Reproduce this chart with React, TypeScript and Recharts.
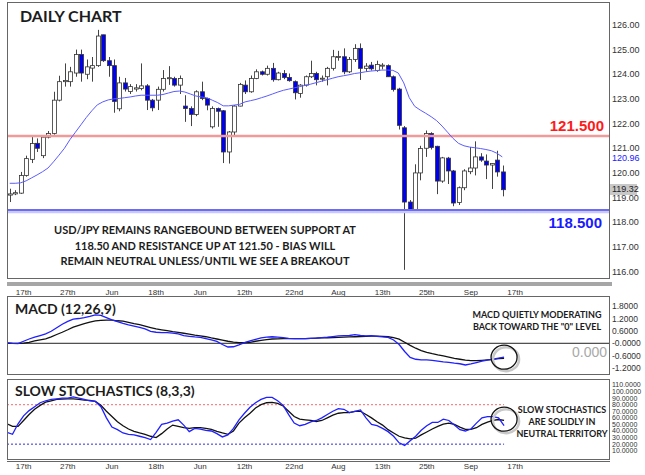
import { ComposedChart, Bar, Line, XAxis, YAxis, ReferenceLine, ReferenceDot } from 'recharts'

// daily USD/JPY candles
const opens = [
  119.1, 119.15, 119.18, 119.9, 120.55, 121.2, 120.7, 121.45, 121.6, 122.95,
  123.7, 123.7, 124.05, 124.8, 124.0, 124.25, 124.35, 125.6, 124.55, 124.35,
  122.6, 123.65, 123.3, 123.4, 123.42, 123.53, 122.95, 122.95, 123.39, 123.83,
  123.83, 123.56, 122.71, 122.61, 122.37, 123.29, 123.02, 121.87, 122.61, 122.52,
  120.85, 121.66, 122.71, 123.56, 123.29, 123.83, 124.1, 124.0, 124.24, 123.78,
  124.03, 123.87, 123.7, 123.22, 123.56, 123.9, 124.03, 123.8, 123.9, 124.24,
  124.68, 124.71, 124.1, 124.6, 125.05, 124.24, 124.37, 124.15, 124.35, 124.35,
  123.9, 123.4, 121.83, 118.82, 118.48, 120.0, 121.0, 121.6, 121.08, 119.67,
  120.6, 120.08, 118.8, 119.4, 120.05, 120.2, 120.65, 120.48, 120.32, 120.52,
  120.04,
]
const highs = [
  119.36, 119.3, 120.04, 120.7, 121.46, 121.4, 121.5, 121.7, 123.29, 123.94,
  124.44, 124.3, 125.0, 125.0, 124.6, 124.7, 125.8, 125.6, 124.7, 124.6,
  123.9, 123.85, 123.6, 123.6, 124.44, 123.6, 123.0, 123.5, 124.17, 124.33,
  123.9, 123.95, 123.15, 122.7, 123.35, 123.7, 123.05, 122.7, 122.65, 122.55,
  121.7, 122.75, 123.65, 123.75, 123.95, 124.2, 124.15, 124.35, 124.46, 124.1,
  124.17, 124.03, 123.75, 123.6, 123.95, 124.55, 124.1, 123.95, 124.3, 124.99,
  124.95, 125.05, 124.7, 125.22, 125.25, 124.45, 124.5, 124.55, 124.45, 124.4,
  123.95, 123.45, 121.9, 118.9, 120.35, 121.1, 121.72, 121.65, 121.1, 120.65,
  120.65, 120.12, 119.45, 120.15, 121.05, 121.28, 120.8, 120.75, 120.4, 120.9,
  120.3,
]
const lows = [
  118.82, 119.1, 119.15, 119.85, 120.4, 120.85, 120.6, 121.4, 121.55, 122.9,
  123.5, 123.5, 123.9, 123.7, 123.8, 123.7, 124.3, 124.5, 123.9, 122.44,
  122.5, 123.3, 123.2, 123.3, 123.35, 122.55, 122.5, 122.55, 123.3, 123.57,
  123.5, 123.2, 122.07, 121.9, 122.3, 122.95, 122.54, 121.8, 121.87, 120.4,
  120.38, 121.46, 122.7, 123.2, 123.25, 123.8, 123.95, 123.95, 123.7, 123.75,
  123.8, 123.7, 122.98, 123.05, 123.5, 123.85, 123.55, 123.7, 123.55, 124.15,
  124.55, 124.0, 124.05, 124.5, 123.77, 124.1, 124.15, 124.1, 124.2, 123.9,
  123.3, 121.76, 116.07, 118.4, 118.45, 119.7, 120.65, 120.95, 119.14, 119.6,
  119.55, 118.65, 118.7, 119.3, 119.95, 119.9, 120.45, 119.75, 119.35, 119.85,
  119.05,
]
const closes = [
  119.15, 119.2, 119.9, 120.58, 121.19, 121.0, 121.45, 121.6, 122.95, 123.7,
  123.75, 124.1, 124.8, 124.05, 124.3, 124.35, 125.55, 124.55, 124.35, 122.9,
  123.65, 123.4, 123.5, 123.45, 123.53, 122.95, 122.64, 123.39, 123.83, 123.86,
  123.56, 123.83, 122.61, 122.37, 123.29, 123.02, 122.75, 122.61, 122.5, 120.85,
  121.66, 122.71, 123.59, 123.29, 123.83, 124.1, 124.0, 124.24, 123.78, 124.05,
  123.87, 123.74, 123.25, 123.56, 123.9, 124.03, 123.78, 123.84, 124.24, 124.71,
  124.72, 124.1, 124.6, 125.05, 124.24, 124.33, 124.22, 124.4, 124.37, 123.9,
  123.38, 121.93, 118.82, 118.48, 120.0, 120.99, 121.6, 121.03, 119.67, 120.61,
  120.08, 118.78, 119.4, 120.08, 120.2, 120.65, 120.52, 120.32, 120.38, 120.04,
  119.32,
]
const ma20 = [
  119.58, 119.58, 119.6, 119.68, 119.8, 119.92, 120.05, 120.2, 120.45, 120.72,
  121.0, 121.35, 121.65, 121.95, 122.25, 122.52, 122.76, 122.88, 122.96, 123.0,
  123.02, 123.05, 123.08, 123.12, 123.15, 123.15, 123.15, 123.15, 123.18, 123.24,
  123.3, 123.32, 123.28, 123.2, 123.12, 123.08, 123.05, 122.95, 122.85, 122.72,
  122.72, 122.75, 122.78, 122.88, 122.93, 122.98, 123.05, 123.12, 123.2, 123.28,
  123.35, 123.4, 123.45, 123.5, 123.55, 123.6, 123.66, 123.72, 123.78, 123.84,
  123.9, 123.94, 123.98, 124.03, 124.06, 124.1, 124.13, 124.15, 124.17, 124.17,
  124.16, 124.05, 123.65, 123.05, 122.7, 122.55, 122.42, 122.28, 122.12, 121.9,
  121.65, 121.4, 121.2, 121.1, 121.05, 121.02, 120.99, 120.95, 120.9, 120.8,
  120.65,
]
const macdLine = [
  0.03, 0.0, -0.02, 0.1, 0.21, 0.3, 0.38, 0.46, 0.59, 0.76,
  0.93, 1.07, 1.18, 1.21, 1.25, 1.31, 1.39, 1.36, 1.25, 1.14,
  1.06, 0.97, 0.9, 0.84, 0.78, 0.7, 0.58, 0.54, 0.52, 0.52,
  0.5, 0.46, 0.37, 0.34, 0.31, 0.29, 0.23, 0.17, 0.09, -0.06,
  -0.18, -0.17, -0.08, 0.03, 0.12, 0.19, 0.26, 0.3, 0.32, 0.3,
  0.28, 0.24, 0.23, 0.23, 0.23, 0.24, 0.25, 0.28, 0.3, 0.33,
  0.36, 0.37, 0.38, 0.42, 0.38, 0.36, 0.37, 0.34, 0.31, 0.29,
  0.16, -0.06, -0.4, -0.69, -0.78, -0.81, -0.81, -0.83, -0.87, -0.91,
  -0.93, -0.97, -1.0, -1.06, -1.01, -0.94, -0.87, -0.82, -0.77, -0.72,
  -0.68,
]
const signalLine = [
  0.0, 0.0, 0.0, 0.01, 0.05, 0.12, 0.17, 0.22, 0.31, 0.43,
  0.54, 0.66, 0.79, 0.88, 0.96, 1.03, 1.09, 1.12, 1.13, 1.13,
  1.1, 1.08, 1.02, 0.96, 0.91, 0.84, 0.77, 0.7, 0.66, 0.62,
  0.57, 0.53, 0.49, 0.45, 0.4, 0.36, 0.32, 0.26, 0.21, 0.16,
  0.1, 0.06, 0.03, 0.03, 0.05, 0.1, 0.14, 0.18, 0.21, 0.22,
  0.23, 0.23, 0.23, 0.23, 0.23, 0.24, 0.25, 0.26, 0.27, 0.28,
  0.29, 0.3, 0.31, 0.32, 0.33, 0.34, 0.35, 0.35, 0.34, 0.32,
  0.28, 0.2, 0.05, -0.1, -0.24, -0.36, -0.44, -0.51, -0.57, -0.62,
  -0.68, -0.74, -0.78, -0.82, -0.85, -0.85, -0.83, -0.81, -0.79, -0.75,
  -0.73,
]
const stochK = [
  38, 35, 51, 63, 71, 77, 83, 86, 88, 89,
  90, 90, 92, 90, 88, 86, 85, 77, 60, 46,
  42, 37, 35, 34, 32, 30, 27, 38, 50, 52,
  55, 57, 49, 39, 44, 43, 41, 40, 36, 31,
  34, 44, 57, 67, 76, 83, 88, 91, 91, 86,
  79, 65, 52, 48, 50, 54, 56, 60, 65, 70,
  74, 73, 68, 70, 72, 60, 50, 48, 44, 39,
  32, 22, 18, 25, 32, 41, 48, 53, 53, 58,
  56, 49, 42, 40, 43, 52, 60, 62, 62, 60,
  48,
]
const stochD = [
  51, 47, 47, 56, 65, 73, 79, 84, 86, 88,
  88.5, 89, 89, 88, 87, 86.5, 85, 79, 70, 62,
  54, 48, 43, 39.5, 37, 35, 32, 30, 36, 43,
  49, 47, 45, 44, 45, 45, 44, 42.5, 39.5, 37,
  35, 40, 52, 60, 67, 75, 80, 83, 83.5, 82,
  78, 70, 62, 58, 57, 56, 54.5, 56, 60, 64,
  67, 68, 68, 70, 70, 65, 60, 54, 49, 42,
  37, 32, 29.5, 28, 29, 34, 38.5, 43, 47, 50.5,
  52, 50, 46, 42.5, 42.5, 45, 50, 53.5, 56, 57.5,
  56,
]

const dateTicks = [3, 11, 19, 27, 35, 43, 52, 60, 68, 76, 84, 92]
const dateLabels = ['17th', '27th', 'Jun', '18th', 'Jun', '12th', '22nd', 'Aug', '13th', '25th', 'Sep', '17th']
const priceTicks = [116, 117, 118, 119, 120, 121, 122, 123, 124, 125, 126]
const macdTicks = [-1.2, -0.6, 0, 0.6, 1.2, 1.8]
const stochTicks = [10, 20, 30, 40, 50, 60, 70, 80, 90, 100, 110]

const SLOTS = 110 // empty space to the right of the last candle

const rows = Array.from({ length: SLOTS }, (_, i) =>
  i < opens.length
    ? {
        idx: i,
        range: [lows[i], highs[i]],
        open: opens[i],
        high: highs[i],
        low: lows[i],
        close: closes[i],
        ma: ma20[i],
        macd: macdLine[i],
        signal: signalLine[i],
        k: stochK[i],
        d: stochD[i],
      }
    : { idx: i }
)

const axisFont = { fontSize: 9, fill: '#333', fontFamily: 'Liberation Sans, Arial' }
const title = { position: 'absolute' as const, fontFamily: 'Lato', fontWeight: 700, color: '#1c1c1c', whiteSpace: 'nowrap' as const }

function Candle(props: any) {
  const { x, y, width, height, payload } = props
  if (!payload || payload.open == null) return <g />
  const { open, close, high, low } = payload
  const k = high === low ? 0 : height / (high - low)
  const py = (p: number) => y + (high - p) * k
  const top = py(Math.max(open, close))
  const bot = py(Math.min(open, close))
  const cx = Math.round(x + width / 2) + 0.5
  const down = close < open
  return (
    <g>
      <line x1={cx} x2={cx} y1={y} y2={y + height} stroke="#444" strokeWidth={1} />
      <rect
        x={cx - 2}
        y={top}
        width={4}
        height={Math.max(bot - top, 1)}
        fill={down ? '#0000f0' : '#fff'}
        stroke="#333"
        strokeWidth={0.8}
      />
    </g>
  )
}

function Ring(props: any) {
  const { cx, cy } = props
  return (
    <g>
      <ellipse cx={cx + 2} cy={cy + 2} rx={13} ry={12} fill="none" stroke="#c8c8c8" strokeWidth={2.5} />
      <ellipse cx={cx} cy={cy} rx={13} ry={12} fill="none" stroke="#111" strokeWidth={1.3} />
    </g>
  )
}

const box = (top: number, height: number) => ({
  position: 'absolute' as const,
  left: 7,
  top,
  width: 603,
  height,
  border: '1px solid #666',
  boxSizing: 'border-box' as const,
  pointerEvents: 'none' as const,
})

export default function App() {
  return (
    <div style={{ position: 'absolute', left: 0, top: 0, width: 645, height: 475, background: '#fff', overflow: 'hidden' }}>
      {/* price panel */}
      <div style={{ position: 'absolute', left: 7, top: 2 }}>
        <ComposedChart width={638} height={276} data={rows} margin={{ top: 0, right: 0, bottom: 0, left: 0 }}>
          <XAxis dataKey="idx" type="category" hide />
          <YAxis
            orientation="right"
            type="number"
            domain={[115.74, 126.93]}
            ticks={priceTicks}
            interval={0}
            tickFormatter={(v: number) => v.toFixed(2)}
            width={36}
            axisLine={false}
            tickLine={false}
            tickSize={0}
            tickMargin={3}
            tick={axisFont}
            allowDataOverflow
          />
          <ReferenceLine y={121.5} stroke="#f29a9a" strokeWidth={2.5} label={{ value: '121.500', position: 'insideBottomRight', offset: 5, fill: '#ff1a1a', fontSize: 15, fontWeight: 700, fontFamily: 'Liberation Sans, Arial' }} />
          <ReferenceLine y={118.42} stroke="#c8c8fa" strokeWidth={2.5} />
          <ReferenceLine y={118.5} stroke="#6c6cf2" strokeWidth={2} label={{ value: '118.500', position: 'insideTopRight', offset: 7, fill: '#1a1aff', fontSize: 15, fontWeight: 700, fontFamily: 'Liberation Sans, Arial' }} />
          <Line dataKey="ma" stroke="#5c5cff" strokeWidth={1} dot={false} isAnimationActive={false} />
          <Bar dataKey="range" barSize={4} shape={Candle} isAnimationActive={false} />
        </ComposedChart>
      </div>
      <div style={box(2, 277)} />
      <div style={{ ...title, left: 20, top: 6, fontSize: 16 }}>DAILY CHART</div>
      <div style={{ ...title, left: 205, top: 222, transform: 'translateX(-50%)', fontSize: 11, lineHeight: '15.5px', textAlign: 'center' }}>
        USD/JPY REMAINS RANGEBOUND BETWEEN SUPPORT AT
        <br />
        118.50 AND RESISTANCE UP AT 121.50 - BIAS WILL
        <br />
        REMAIN NEUTRAL UNLESS/UNTIL WE SEE A BREAKOUT
      </div>
      <div style={{ position: 'absolute', left: 612, top: 153, fontSize: 9, lineHeight: '10px', color: '#2020ff', fontFamily: 'Liberation Sans, Arial' }}>120.96</div>
      <div style={{ position: 'absolute', left: 610, top: 184, width: 27, height: 11, background: '#c8c8c8', fontSize: 9, lineHeight: '11px', color: '#222', fontFamily: 'Liberation Sans, Arial', paddingLeft: 2, boxSizing: 'border-box' }}>119.32</div>
      <div style={{ position: 'absolute', left: 7, top: 282, width: 605, height: 4, background: '#a6a6a6' }} />

      {/* MACD panel */}
      <div style={{ position: 'absolute', left: 7, top: 285 }}>
        <ComposedChart width={638} height={89} data={rows} margin={{ top: 0, right: 0, bottom: 0, left: 0 }}>
          <XAxis
            dataKey="idx"
            type="category"
            orientation="top"
            height={11}
            ticks={dateTicks}
            interval={0}
            tickFormatter={(v: number) => dateLabels[dateTicks.indexOf(v)]}
            axisLine={false}
            tickLine={false}
            tickSize={0}
            tickMargin={1}
            tick={{ ...axisFont, fontSize: 8 }}
          />
          <YAxis
            orientation="right"
            type="number"
            domain={[-1.5, 2.31]}
            ticks={macdTicks}
            interval={0}
            tickFormatter={(v: number) => (v === 0 ? '-0.0000' : v.toFixed(4))}
            width={36}
            axisLine={false}
            tickLine={false}
            tickSize={0}
            tickMargin={3}
            tick={{ ...axisFont, fontSize: 8.5 }}
            allowDataOverflow
          />
          <ReferenceLine y={0} stroke="#222" strokeWidth={1} />
          <Line dataKey="signal" stroke="#111" strokeWidth={1.3} dot={false} isAnimationActive={false} />
          <Line dataKey="macd" stroke="#1f1fff" strokeWidth={1.3} dot={false} isAnimationActive={false} />
          <ReferenceDot x={90} y={macdLine[90]} r={13} shape={Ring} ifOverflow="visible" />
        </ComposedChart>
      </div>
      <div style={box(296, 79)} />
      <div style={{ ...title, left: 15, top: 300, fontSize: 14 }}>MACD (12,26,9)</div>
      <div style={{ ...title, left: 537, top: 309, transform: 'translateX(-50%)', fontSize: 9, lineHeight: '12px', textAlign: 'center' }}>
        MACD QUIETLY MODERATING
        <br />
        BACK TOWARD THE "0" LEVEL
      </div>
      <div style={{ position: 'absolute', left: 572, top: 344, fontSize: 14, color: '#a8a8a8', fontFamily: 'Liberation Sans, Arial' }}>0.000</div>

      {/* slow stochastics panel */}
      <div style={{ position: 'absolute', left: 7, top: 379 }}>
        <ComposedChart width={638} height={94} data={rows} margin={{ top: 0, right: 0, bottom: 0, left: 0 }}>
          <XAxis
            dataKey="idx"
            type="category"
            height={14}
            ticks={dateTicks}
            interval={0}
            tickFormatter={(v: number) => dateLabels[dateTicks.indexOf(v)]}
            axisLine={false}
            tickLine={false}
            tickSize={0}
            tickMargin={4}
            tick={{ ...axisFont, fontSize: 8 }}
          />
          <YAxis
            orientation="right"
            type="number"
            domain={[-2.6, 119.1]}
            ticks={stochTicks}
            interval={0}
            tickFormatter={(v: number) => v.toFixed(4)}
            width={36}
            axisLine={false}
            tickLine={false}
            tickSize={0}
            tickMargin={3}
            tick={{ ...axisFont, fontSize: 7 }}
            allowDataOverflow
          />
          <ReferenceLine segment={[{ x: 0, y: 80 }, { x: 90, y: 80 }]} stroke="#f06a6a" strokeDasharray="2 2" />
          <ReferenceLine segment={[{ x: 0, y: 20 }, { x: 90, y: 20 }]} stroke="#2a2af0" strokeDasharray="2 2" />
          <Line dataKey="d" stroke="#111" strokeWidth={1.3} dot={false} isAnimationActive={false} />
          <Line dataKey="k" stroke="#1f1fff" strokeWidth={1.3} dot={false} isAnimationActive={false} />
          <ReferenceDot x={90} y={58} r={13} shape={Ring} ifOverflow="visible" />
        </ComposedChart>
      </div>
      <div style={box(379, 81)} />
      <div style={{ position: 'absolute', left: 7, top: 461, width: 603, height: 1, background: '#666' }} />
      <div style={{ ...title, left: 15, top: 382, fontSize: 14 }}>SLOW STOCHASTICS (8,3,3)</div>
      <div style={{ ...title, left: 562, top: 404, transform: 'translateX(-50%)', fontSize: 9, lineHeight: '12px', textAlign: 'center' }}>
        SLOW STOCHASTICS
        <br />
        ARE SOLIDLY IN
        <br />
        NEUTRAL TERRITORY
      </div>
    </div>
  )
}
